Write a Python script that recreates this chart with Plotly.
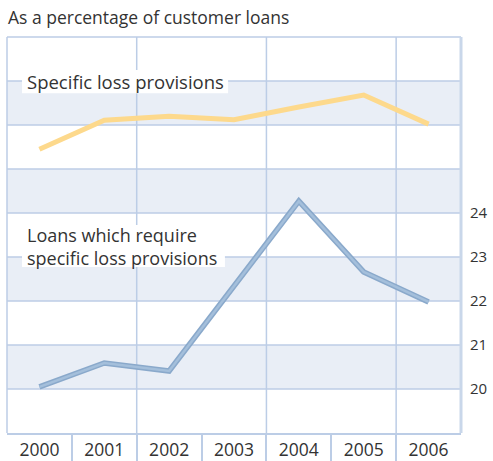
import plotly.graph_objects as go

# Data
years = [2000, 2001, 2002, 2003, 2004, 2005, 2006]
loans_requiring_provisions = [20.05, 20.59, 20.41, 22.33, 24.27, 22.66, 21.98]  # right axis, %
specific_loss_provisions = [6.45, 7.11, 7.20, 7.12, 7.41, 7.68, 7.02]          # unlabelled scale
right_tick_vals = [20, 21, 22, 23, 24]
title_text = "As a percentage of customer loans"

FONT = "Open Sans"
TEXT = "#333333"
GRID = "#bccde6"
BAND = "#e9eef6"

fig = go.Figure()

# Loans which require specific loss provisions (darker edge + lighter core)
fig.add_trace(go.Scatter(x=years, y=loans_requiring_provisions, mode="lines",
                         line=dict(color="#8aa9cb", width=5.5), hoverinfo="skip",
                         showlegend=False))
fig.add_trace(go.Scatter(x=years, y=loans_requiring_provisions, mode="lines",
                         line=dict(color="#a4bfdb", width=2.5), showlegend=False))

# Specific loss provisions on its own hidden scale
fig.add_trace(go.Scatter(x=years, y=specific_loss_provisions, mode="lines", yaxis="y2",
                         line=dict(color="#fdd98c", width=5), showlegend=False))

shapes = []
# Alternating horizontal bands
for lo in [20, 22, 24, 26]:
    shapes.append(dict(type="rect", xref="paper", yref="y", x0=0, x1=1, y0=lo, y1=lo + 1,
                       fillcolor=BAND, line=dict(width=0), layer="below"))
# Horizontal grid lines at every unit of the right-hand scale
for v in range(20, 28):
    shapes.append(dict(type="line", xref="paper", yref="y", x0=0, x1=1, y0=v, y1=v,
                       line=dict(color=GRID, width=1.5), layer="below"))
# Vertical grid lines every second year boundary
for xv in [2001.5, 2003.5, 2005.5]:
    shapes.append(dict(type="line", xref="x", yref="paper", x0=xv, x1=xv, y0=0, y1=1,
                       line=dict(color=GRID, width=1.5), layer="below"))
# Plot frame
shapes.append(dict(type="line", xref="paper", yref="paper", x0=0, x1=1, y0=1, y1=1,
                   line=dict(color=GRID, width=1.5), layer="below"))
shapes.append(dict(type="line", xref="paper", yref="paper", x0=0, x1=0, y0=0, y1=1,
                   line=dict(color=GRID, width=1.5), layer="below"))
shapes.append(dict(type="line", xref="paper", yref="paper", x0=1, x1=1, y0=0, y1=1,
                   line=dict(color="#c9d7ea", width=3), layer="below"))
# White backing boxes behind the series labels
shapes.append(dict(type="rect", xref="paper", yref="y", x0=0.033, x1=0.487, y0=26.72, y1=27.25,
                   fillcolor="white", line=dict(width=0), layer="below"))
shapes.append(dict(type="rect", xref="paper", yref="y", x0=0.033, x1=0.48, y0=22.77, y1=23.73,
                   fillcolor="white", line=dict(width=0), layer="below"))

label_font = dict(family=FONT, size=18.5, color=TEXT)
annotations = [
    dict(text=title_text, xref="paper", yref="paper", x=-0.002, y=1.0, yshift=6,
         xanchor="left", yanchor="bottom", showarrow=False,
         font=dict(family=FONT, size=17.5, color=TEXT)),
    dict(text="Specific loss provisions", xref="paper", yref="y", x=0.042, y=27,
         xanchor="left", yanchor="middle", showarrow=False, borderpad=0, font=label_font),
    dict(text="Loans which require<br>specific loss provisions", xref="paper", yref="y",
         x=0.042, y=23.23, xanchor="left", yanchor="middle", align="left",
         showarrow=False, borderpad=0, font=dict(family=FONT, size=18, color=TEXT)),
]

fig.update_layout(
    width=493, height=461,
    margin=dict(l=7, r=32, t=37, b=28),
    paper_bgcolor="white", plot_bgcolor="white",
    shapes=shapes, annotations=annotations,
    xaxis=dict(range=[1999.5, 2006.5], tickvals=years, ticktext=[str(y) for y in years],
               showgrid=False, zeroline=False, showline=True, linecolor=GRID, linewidth=1.5,
               ticks="", ticklabelstandoff=0, automargin=False,
               tickfont=dict(family=FONT, size=17.5, color=TEXT),
               minor=dict(tickvals=[2000.5, 2001.5, 2002.5, 2003.5, 2004.5, 2005.5],
                          ticks="outside", ticklen=30, tickcolor=GRID, tickwidth=1.5,
                          showgrid=False)),
    yaxis=dict(range=[19, 28], side="right", tickvals=right_tick_vals,
               ticktext=[str(v) for v in right_tick_vals], showgrid=False, zeroline=False,
               ticks="", ticklabelstandoff=8, automargin=False,
               tickfont=dict(family=FONT, size=15, color=TEXT)),
    yaxis2=dict(range=[0, 9], overlaying="y", visible=False),
)

fig.write_html("out.html")
